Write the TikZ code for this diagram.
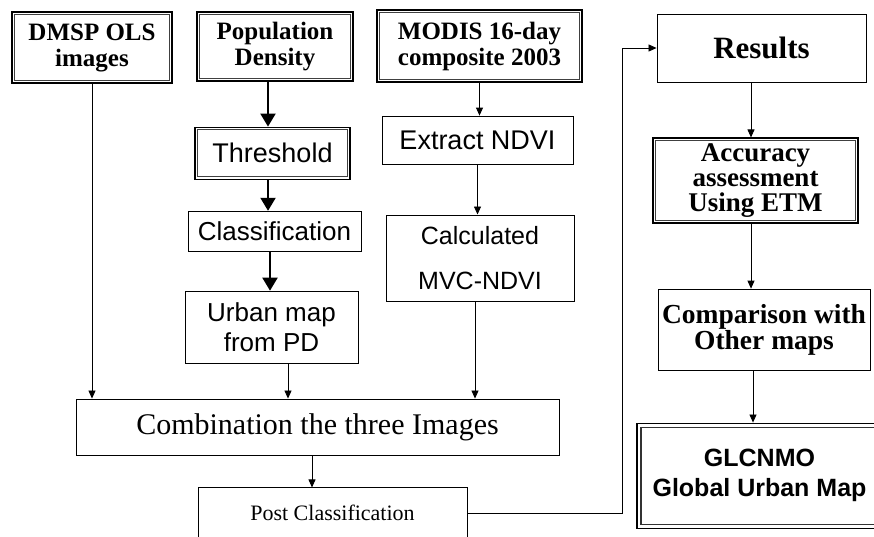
\documentclass[tikz,border=0pt]{standalone}
\usepackage{fontspec}
\setmainfont{Liberation Serif}
\setsansfont{Liberation Sans}
\usetikzlibrary{positioning,arrows.meta}

\begin{document}
\begin{tikzpicture}[x=1pt,y=-1pt,
	box node/.style={draw, line width=0.9pt, align=center, inner sep=2pt},
	dbl node/.style={box node, line width=1.2pt,
		path picture={\draw[line width=0.8pt, black!75]
			([shift={(2.6pt,-2.6pt)}]path picture bounding box.north west) rectangle
			([shift={(-2.6pt,2.6pt)}]path picture bounding box.south east);}},
	src node/.style={dbl node, font=\bfseries\fontsize{25}{26}\selectfont},
	proc node/.style={box node, font=\sffamily\fontsize{26}{30}\selectfont},
	arr/.style={-{Triangle[length=8pt,width=7pt]}, line width=0.8pt},
	big arr/.style={-{Triangle[length=13pt,width=15pt]}, line width=2pt}]

	\useasboundingbox (0,0) rectangle (874,536);

	% inputs
	\node[src node, minimum width=160pt, minimum height=71pt](dmsp) at (92,47.5){DMSP OLS\\images};
	\node[src node, minimum width=156pt, minimum height=69pt](pd) at (275,46.5){Population\\Density};
	\node[src node, minimum width=205pt, minimum height=72pt](modis) at (479.5,46){MODIS 16-day\\composite 2003};

	% population density branch
	\node[proc node, dbl node, minimum width=155pt, minimum height=52pt, font=\sffamily\fontsize{27}{30}\selectfont](thr)[below = 45pt of pd, xshift=-2.5pt]{Threshold};
	\node[proc node, minimum width=173pt, minimum height=40pt](cls)[below = 31pt of thr, xshift=2pt]{Classification};
	\node[proc node, minimum width=173pt, minimum height=72pt](urb)[below = 39pt of cls, xshift=-3pt]{Urban map\\from PD};

	% modis branch
	\node[proc node, minimum width=191pt, minimum height=48pt, font=\sffamily\fontsize{27}{30}\selectfont](ext)[below = 33pt of modis, xshift=-2pt]{Extract NDVI};
	\node[proc node, minimum width=188pt, minimum height=86pt, font=\sffamily\fontsize{25}{45}\selectfont](mvc)[below = 50pt of ext, xshift=2.5pt]{Calculated\\MVC-NDVI};

	% merge
	\node[box node, minimum width=483pt, minimum height=56pt, font=\fontsize{30}{30}\selectfont](comb) at (317.5,427){Combination the three Images};
	\node[box node, minimum width=269pt, minimum height=50pt, font=\fontsize{22}{22}\selectfont](post)[below = 32pt of comb, xshift=15pt]{Post Classification};

	% results column
	\node[box node, minimum width=209pt, minimum height=68pt, font=\bfseries\fontsize{31}{32}\selectfont](res) at (761.5,48){Results};
	\node[src node, minimum width=205pt, minimum height=85pt, font=\bfseries\fontsize{27}{25}\selectfont](acc)[below = 55pt of res, xshift=-6pt]{Accuracy\\assessment\\Using ETM};
	\node[box node, minimum width=212pt, minimum height=81pt, inner sep=1pt, font=\bfseries\fontsize{27.5}{26}\selectfont](cmp)[below = 65pt of acc, xshift=8.5pt]{Comparison with\\Other maps};
	\node[box node, line width=1.6pt, minimum width=245pt, minimum height=105pt,
		path picture={\draw[line width=1.2pt, black!80]
			([shift={(4pt,-4pt)}]path picture bounding box.north west) rectangle
			([shift={(-4pt,4pt)}]path picture bounding box.south east);},
		font=\sffamily\bfseries\fontsize{25}{30}\selectfont](glc)[below = 52pt of cmp, xshift=-4.5pt]{GLCNMO\\Global Urban Map};

	\coordinate (fb) at (622,300);

	\draw[big arr]([xshift=-7pt]pd.south) -- ([xshift=-7pt]pd.south |- thr.north);
	\draw[big arr]([xshift=-4.5pt]thr.south) -- ([xshift=-4.5pt]thr.south |- cls.north);
	\draw[big arr]([xshift=-4.5pt]cls.south) -- ([xshift=-4.5pt]cls.south |- urb.north);

	\draw[arr](modis.south) -- (modis.south |- ext.north);
	\draw[arr](ext.south) -- (ext.south |- mvc.north);
	\draw[arr](dmsp.south) -- (dmsp.south |- comb.north);
	\draw[arr]([xshift=16.5pt]urb.south) -- ([xshift=16.5pt]urb.south |- comb.north);
	\draw[arr]([xshift=-5pt]mvc.south) -- ([xshift=-5pt]mvc.south |- comb.north);
	\draw[arr]([xshift=-5.5pt]comb.south) -- ([xshift=-5.5pt]comb.south |- post.north);
	\draw[arr](post.east) -| (fb) |- (res.west);
	\draw[arr]([xshift=-10.5pt]res.south) -- ([xshift=-10.5pt]res.south |- acc.north);
	\draw[arr]([xshift=-4.5pt]acc.south) -- ([xshift=-4.5pt]acc.south |- cmp.north);
	\draw[arr]([xshift=-11pt]cmp.south) -- ([xshift=-11pt]cmp.south |- glc.north);
\end{tikzpicture}
\end{document}
